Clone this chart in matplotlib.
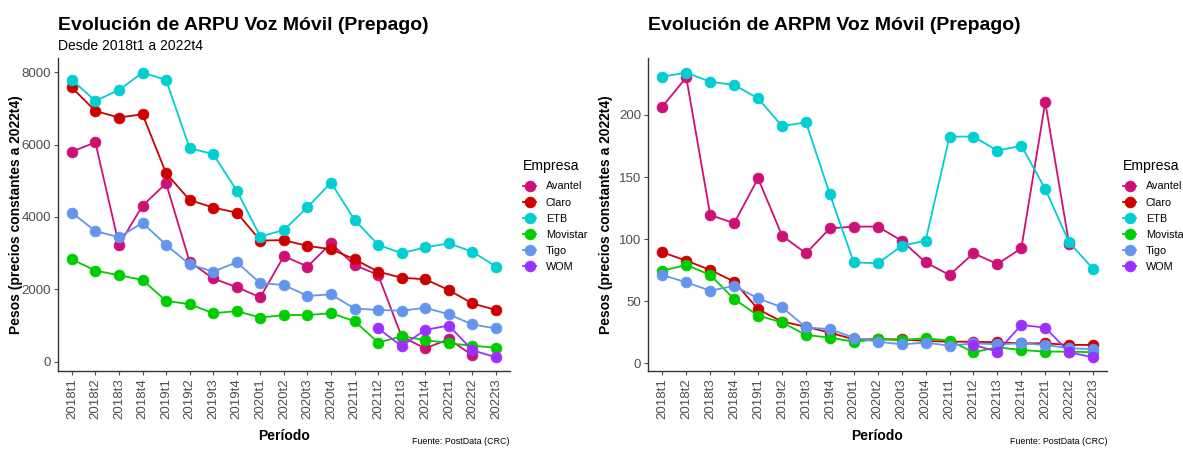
import matplotlib
matplotlib.use("Agg")
import matplotlib.pyplot as plt
import numpy as np

plt.rcParams['font.family'] = ['Liberation Sans', 'DejaVu Sans']

periodos = ['2018t1', '2018t2', '2018t3', '2018t4', '2019t1', '2019t2', '2019t3', '2019t4',
            '2020t1', '2020t2', '2020t3', '2020t4', '2021t1', '2021t2', '2021t3', '2021t4',
            '2022t1', '2022t2', '2022t3']
empresas = ['Avantel', 'Claro', 'ETB', 'Movistar', 'Tigo', 'WOM']
colores = ['#CD1076', '#CD0000', '#00CED1', '#00CD00', '#6495ED', '#9B30FF']

nan = np.nan
# ARPU (pesos)
arpu_avantel = [5810, 6060, 3230, 4310, 4930, 2760, 2300, 2060, 1780, 2920, 2630, 3270, 2670, 2400,
                690, 370, 620, 180, nan]
arpu_claro = [7580, 6930, 6750, 6840, 5210, 4470, 4260, 4120, 3350, 3360, 3200, 3110, 2830, 2490,
              2320, 2280, 1980, 1610, 1430]
arpu_etb = [7790, 7210, 7510, 7990, 7790, 5900, 5740, 4730, 3460, 3640, 4270, 4950, 3920, 3230,
            3000, 3160, 3270, 3040, 2630]
arpu_movistar = [2830, 2520, 2390, 2260, 1680, 1590, 1340, 1400, 1220, 1290, 1290, 1340, 1120, 530,
                 700, 600, 510, 440, 390]
arpu_tigo = [4120, 3610, 3440, 3840, 3230, 2690, 2490, 2750, 2170, 2120, 1820, 1860, 1470, 1430,
             1410, 1490, 1310, 1030, 920]
arpu_wom = [nan] * 13 + [920, 430, 880, 1000, 320, 120]

# ARPM (pesos por minuto)
arpm_avantel = [206.7, 230.3, 119.5, 112.8, 149.0, 102.8, 88.6, 108.7, 110.1, 110.1, 98.8, 81.3,
                71.1, 88.6, 80.0, 92.6, 210.2, 95.8, nan]
arpm_claro = [89.4, 82.7, 75.2, 65.8, 43.5, 33.6, 29.5, 24.7, 19.3, 19.3, 19.3, 18.0, 17.4, 17.4,
              16.9, 16.1, 16.1, 14.8, 14.8]
arpm_etb = [230.9, 234.1, 226.8, 224.2, 213.4, 191.1, 194.1, 136.1, 81.3, 80.5, 94.5, 98.8, 182.6,
            182.6, 171.3, 175.3, 140.4, 97.4, 76.0]
arpm_movistar = [74.6, 79.2, 71.1, 51.8, 38.4, 33.0, 22.8, 20.7, 17.4, 19.3, 18.8, 20.1, 18.3, 8.9,
                 12.9, 10.7, 9.4, 9.4, 8.9]
arpm_tigo = [71.1, 65.2, 58.5, 62.3, 52.3, 45.1, 29.0, 27.4, 20.7, 17.4, 15.3, 16.6, 14.2, 16.1,
             15.3, 16.1, 14.8, 12.1, 11.5]
arpm_wom = [nan] * 13 + [14.8, 9.4, 30.9, 28.7, 8.9, 4.8]

arpu = [arpu_avantel, arpu_claro, arpu_etb, arpu_movistar, arpu_tigo, arpu_wom]
arpm = [arpm_avantel, arpm_claro, arpm_etb, arpm_movistar, arpm_tigo, arpm_wom]

W, H = 1183, 450
fig = plt.figure(figsize=(W / 100, H / 100), dpi=100)
# axes rectangles in pixels (left, right), top 58, bottom 371
ax1 = fig.add_axes([57.7 / W, (H - 371) / H, (509.6 - 57.7) / W, 313 / H])
ax2 = fig.add_axes([648 / W, (H - 371) / H, (1107 - 648) / W, 313 / H])

x = np.arange(len(periodos))


def panel(ax, series, ylim, yticks, titulo, subtitulo, ylab_px, leg_px):
    for vals, col, nom in zip(series, colores, empresas):
        ax.plot(x, vals, '-', color=col, lw=1.3, marker='o', ms=7.8, mew=0.5, label=nom)
    ax.set_xlim(-0.6, 18.58)
    ax.set_ylim(*ylim)
    ax.set_yticks(yticks)
    ax.set_xticks(x)
    ax.set_xticklabels(periodos, rotation=90)
    ax.tick_params(axis='both', labelsize=9.5, colors='#4D4D4D', length=3, width=0.8, pad=2)
    for s in ['top', 'right']:
        ax.spines[s].set_visible(False)
    for s in ['left', 'bottom']:
        ax.spines[s].set_color('#333333')
        ax.spines[s].set_linewidth(1.0)
    ax.set_xlabel('Período', fontsize=10, fontweight='bold')
    ax.xaxis.set_label_coords(0.5, -(430 - 371) / 313 - 0.02, transform=ax.transAxes)
    ax.xaxis.label.set_va('center')
    ax.set_ylabel('Pesos (precios constantes a 2022t4)', fontsize=10, fontweight='bold')
    x0 = ax.get_position().x0 * W
    ax.yaxis.set_label_coords((ylab_px - x0) / (ax.get_position().width * W), 0.5)
    ax.text(0, (371 - 30) / 313, titulo, transform=ax.transAxes, fontsize=14, fontweight='bold',
            ha='left', va='baseline')
    if subtitulo:
        ax.text(0, (371 - 50.5) / 313, subtitulo, transform=ax.transAxes, fontsize=10,
                ha='left', va='baseline')
    ax.text(1, -(442 - 371) / 313, 'Fuente: PostData (CRC)', transform=ax.transAxes,
            fontsize=6.4, ha='right', va='center')
    leg = ax.legend(title='Empresa', loc='upper left',
                    bbox_to_anchor=(leg_px / W, 1 - 159 / H), bbox_transform=fig.transFigure,
                    frameon=False, fontsize=7.8, title_fontsize=10.2, handlelength=1.2,
                    labelspacing=0.57, handletextpad=0.9, borderpad=0, borderaxespad=0)
    leg._legend_box.align = 'left'
    leg._legend_box.sep = 6.0


panel(ax1, arpu, (-257, 8395), [0, 2000, 4000, 6000, 8000],
      'Evolución de ARPU Voz Móvil (Prepago)', 'Desde 2018t1 a 2022t4', 23, 523)
panel(ax2, arpm, (-6.2, 245.9), [0, 50, 100, 150, 200],
      'Evolución de ARPM Voz Móvil (Prepago)', None, 23 + 590.3, 1123)

fig.savefig('out.png', dpi=100)
